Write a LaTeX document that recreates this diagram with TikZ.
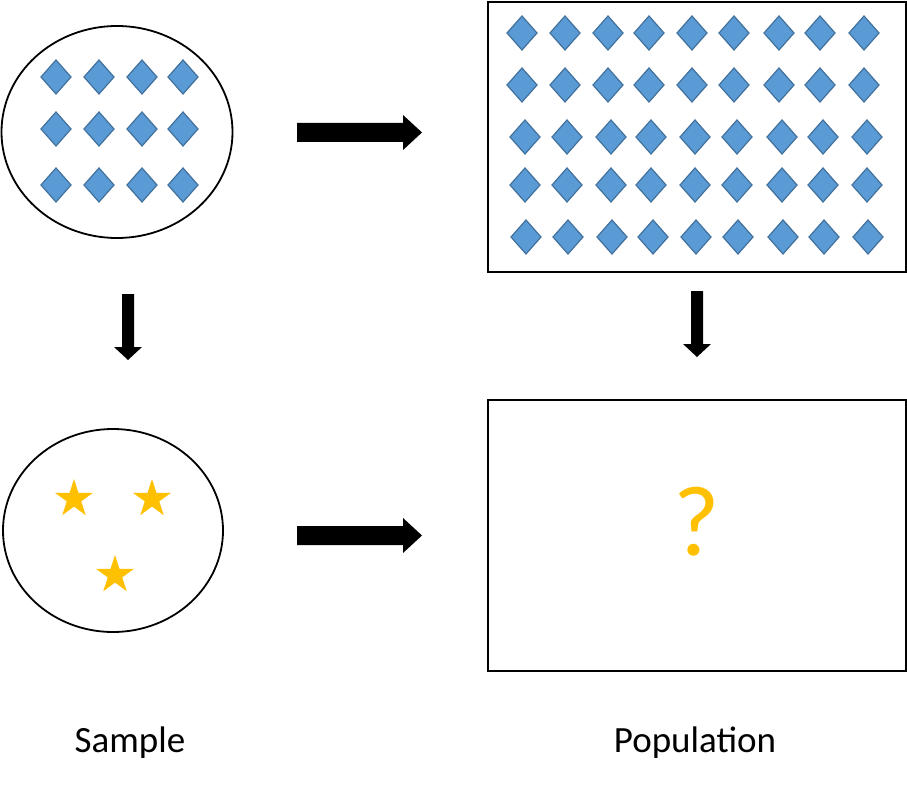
\documentclass[tikz,border=0pt]{standalone}
\usepackage{fontspec}
\setmainfont{Carlito}
\definecolor{dfill}{HTML}{5B9BD5}
\definecolor{dline}{HTML}{41719C}
\definecolor{gold}{HTML}{FFC000}
\tikzset{
  frame/.style={draw=black, line width=1.8pt},
  gem/.style={fill=dfill, draw=dline, line width=1.2pt, line join=miter},
  blockarrow/.style={fill=black},
  starshape/.style={fill=gold},
  label/.style={font=\fontsize{37}{44}\selectfont, text=black, inner sep=0pt}
}
\newcommand{\gemat}[2]{\path[gem] (#1-15,#2) -- (#1,#2-17) -- (#1+15,#2) -- (#1,#2+17) -- cycle;}
\newcommand{\starat}[2]{\path[starshape] (#1,#2) ++(270:20) -- ($(#1,#2)+(306:7.6)$) -- ($(#1,#2)+(342:20)$) -- ($(#1,#2)+(18:7.6)$) -- ($(#1,#2)+(54:20)$) -- ($(#1,#2)+(90:7.6)$) -- ($(#1,#2)+(126:20)$) -- ($(#1,#2)+(162:7.6)$) -- ($(#1,#2)+(198:20)$) -- ($(#1,#2)+(234:7.6)$) -- cycle;}
\usetikzlibrary{calc}
\begin{document}
\begin{tikzpicture}[x=1pt,y=-1pt]
\useasboundingbox[fill=white] (0,0) rectangle (907,786);
% sample ellipse (top)
\draw[frame] (117,132) ellipse [x radius=115.5, y radius=106];
\foreach \x in {56,99,142,183} {
  \foreach \y in {77,129,185} { \gemat{\x}{\y} }
}
% population rectangle (top)
\draw[frame] (488,2) rectangle (906,272);
\foreach \x in {522,565,608,649,692,734,779,820,864} {
  \foreach \y in {33,85} { \gemat{\x}{\y} }
}
\foreach \x in {525,567,611,651,695,737,782,823,867} {
  \foreach \y in {137,185} { \gemat{\x}{\y} }
}
\foreach \x in {526,568,612,653,696,738,783,824,868} { \gemat{\x}{237} }
% arrows
\path[blockarrow] (297,123) -- (403,123) -- (403,115) -- (422,132.5) -- (403,150) -- (403,142) -- (297,142) -- cycle;
\path[blockarrow] (297,526) -- (403,526) -- (403,518) -- (422,535.5) -- (403,553) -- (403,545) -- (297,545) -- cycle;
\path[blockarrow] (122,294) -- (134,294) -- (134,347) -- (142,347) -- (128,360) -- (114,347) -- (122,347) -- cycle;
\path[blockarrow] (691,291) -- (703,291) -- (703,344) -- (711,344) -- (697,357) -- (683,344) -- (691,344) -- cycle;
% sample ellipse (bottom)
\draw[frame] (113,530.5) ellipse [x radius=110, y radius=101.5];
\starat{74}{499}
\starat{152}{499}
\starat{115}{575}
% population rectangle (bottom)
\draw[frame] (488,400) rectangle (906,671);
\node[text=gold, font=\fontsize{100}{115}\selectfont, inner sep=0pt] (q) at (697,522) {?};
% labels
\node[label] (sample) at (130,743) {Sample};
\node[label] (population) at (695,743) {Population};
\end{tikzpicture}
\end{document}
